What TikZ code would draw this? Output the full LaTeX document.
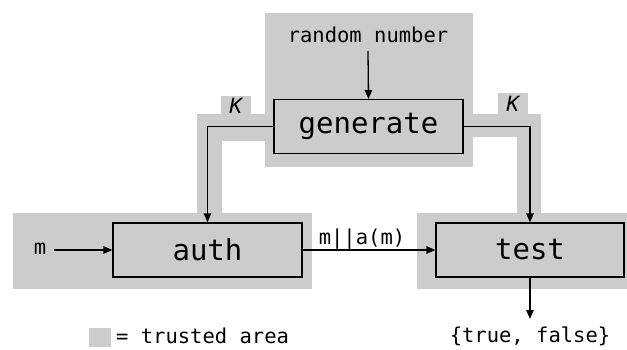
\documentclass[tikz,border=0pt]{standalone}
\usepackage{fontspec}
\setmonofont{DejaVu Sans Mono}
\usetikzlibrary{arrows.meta}
\definecolor{trust}{HTML}{CCCCCC}
\tikzset{
  trusted/.style={fill=trust, draw=none},
  blockbox/.style={draw=black, line width=1.3pt, fill=trust, minimum width=189pt, minimum height=54pt, inner sep=0pt, font=\ttfamily\fontsize{29}{30}\selectfont},
  smalltext/.style={inner sep=0pt, font=\ttfamily\fontsize{20.5}{22}\selectfont},
  keytext/.style={inner sep=0pt, font=\ttfamily\itshape\fontsize{21}{22}\selectfont},
  conn/.style={line width=1.3pt, -{Triangle[length=9pt,width=7.5pt]}},
}
\begin{document}
\begin{tikzpicture}[x=1pt,y=-1pt]
\useasboundingbox (0,0) rectangle (627,349);
% trusted areas
\fill[trusted] (265,13) rectangle (473,167);
\fill[trusted] (197,114) rectangle (265,141);
\fill[trusted] (197,114) rectangle (222,213);
\fill[trusted] (221,96) rectangle (251,114);
\fill[trusted] (473,114) rectangle (541,137);
\fill[trusted] (517,114) rectangle (541,213);
\fill[trusted] (498,93) rectangle (528,114);
\fill[trusted] (13,213) rectangle (312,289);
\fill[trusted] (417,213) rectangle (627,289);
\fill[trusted] (89,328) rectangle (111,347);
% blocks
\node[blockbox] (gen) at (368.5,126.5) {generate};
\node[blockbox] (auth) at (207.5,250) {auth};
\node[blockbox, minimum width=188pt] (test) at (530,250) {test};
% texts
\node[smalltext] (rnd) at (368,35) {random number};
\coordinate (rndend) at (368,51);
\node[smalltext] (mlab) at (40,249) {m};
\coordinate (mstart) at (54,250);
\node[smalltext] (out) at (530,336) {\{true, false\}};
\coordinate (outend) at (530,319);
\node[keytext] (kl) at (236,106) {K};
\node[keytext] (kr) at (513,104) {K};
\node[smalltext] (mac) at (362,239) {m||a(m)};
\node[smalltext, anchor=west] (legend) at (116,336) {= trusted area};
% connectors
\draw[conn] (rndend) -- (gen.north);
\draw[conn] (gen.west) -| (auth.north);
\draw[conn] (gen.east) -| (test.north);
\draw[conn] (mstart) -- (auth.west);
\draw[conn] (auth.east) -- (test.west);
\draw[conn] (test.south) -- (outend);
\end{tikzpicture}
\end{document}
